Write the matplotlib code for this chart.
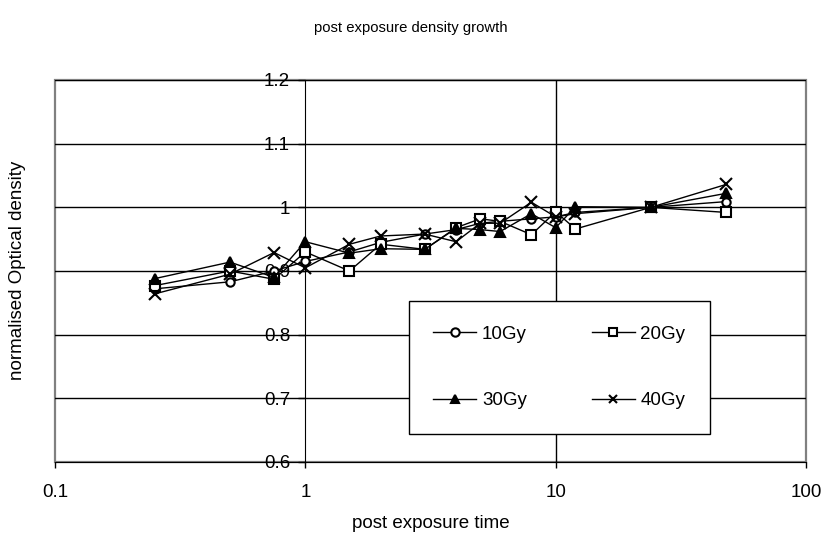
import matplotlib
matplotlib.use("Agg")
import matplotlib.pyplot as plt
from matplotlib.ticker import FixedLocator, FixedFormatter, NullLocator
from matplotlib.patches import Rectangle

plt.rcParams['font.family'] = ['Liberation Sans', 'DejaVu Sans']

time_h = [0.25, 0.5, 0.75, 1, 1.5, 2, 3, 4, 5, 6, 8, 10, 12, 24, 48]
od_10gy = [0.872, 0.883, 0.900, 0.915, 0.930, 0.945, 0.958, 0.965, 0.975, 0.978, 0.982, 0.985, 0.992, 1.0, 1.009]
od_20gy = [0.877, 0.900, 0.887, 0.930, 0.900, 0.942, 0.934, 0.968, 0.982, 0.978, 0.957, 0.993, 0.966, 1.0, 0.992]
od_30gy = [0.888, 0.914, 0.890, 0.946, 0.928, 0.935, 0.934, 0.967, 0.965, 0.962, 0.990, 0.968, 1.001, 1.0, 1.022]
od_40gy = [0.864, 0.895, 0.929, 0.905, 0.942, 0.955, 0.958, 0.946, 0.975, 0.975, 1.008, 0.985, 0.990, 1.0, 1.036]

x_ticks = [0.1, 1, 10, 100]
x_tick_labels = ['0.1', '1', '10', '100']
y_ticks = [0.6, 0.7, 0.8, 0.9, 1.0, 1.1, 1.2]
y_tick_labels = ['0.6', '0.7', '0.8', '0.9', '1', '1.1', '1.2']

FS = 13.5

fig = plt.figure(figsize=(8.21, 5.34), dpi=100)
L, R, T, B = 55 / 821, 806 / 821, 1 - 80 / 534, 1 - 462 / 534
ax = fig.add_axes([L, B, R - L, T - B])

ax.set_xscale('log')
ax.set_xlim(0.1, 100)
ax.set_ylim(0.6, 1.2)

# gridlines
for yv in y_ticks[1:]:
    ax.axhline(yv, color='black', lw=1.0, zorder=1)
ax.axvline(10, color='black', lw=1.0, zorder=1)

# gray plot-area frame
ax.add_patch(Rectangle((0, 0), 1, 1, transform=ax.transAxes, fill=False,
                       edgecolor='#808080', lw=1.6, zorder=0.5, clip_on=False))

series = [
    (od_10gy, 'o', 'white', 6, '10Gy'),
    (od_20gy, 's', 'white', 7, '20Gy'),
    (od_30gy, '^', 'black', 7, '30Gy'),
    (od_40gy, 'x', 'black', 8, '40Gy'),
]
handles = []
for vals, mk, fc, ms, lab in series:
    h, = ax.plot(time_h, vals, color='black', lw=1.0, marker=mk, markersize=ms,
                 markerfacecolor=fc, markeredgecolor='black', markeredgewidth=1.5,
                 label=lab, zorder=3)
    handles.append(h)

# axes spines
ax.spines['top'].set_visible(False)
ax.spines['right'].set_visible(False)
ax.spines['left'].set_position(('data', 1))
ax.spines['left'].set_color('black')
ax.spines['bottom'].set_color('black')
ax.spines['left'].set_zorder(2)

ax.xaxis.set_major_locator(FixedLocator(x_ticks))
ax.xaxis.set_major_formatter(FixedFormatter(x_tick_labels))
ax.xaxis.set_minor_locator(NullLocator())
ax.yaxis.set_major_locator(FixedLocator(y_ticks))
ax.yaxis.set_major_formatter(FixedFormatter(y_tick_labels))

ax.tick_params(axis='x', direction='out', length=4, pad=12, labelsize=FS, width=1)
ax.tick_params(axis='y', direction='out', length=5, pad=6, labelsize=FS, width=1)

ax.set_xlabel('post exposure time', fontsize=FS, labelpad=10)
fig.text(18 / 821, 1 - 270 / 534, 'normalised Optical density', rotation=90,
         ha='center', va='center', fontsize=FS)
fig.text(0.5, 1 - 28 / 534, 'post exposure density growth', ha='center', va='center', fontsize=10.7)

# row-wise order: 10Gy, 20Gy / 30Gy, 40Gy
order = [0, 2, 1, 3]
leg = ax.legend([handles[i] for i in order], [series[i][4] for i in order],
                loc='upper left', bbox_to_anchor=(0.471, 0.421, 0.401, 0.0), mode='expand',
                ncol=2, frameon=True, fancybox=False, edgecolor='black', framealpha=1,
                fontsize=FS, handlelength=2.3, handletextpad=0.3, labelspacing=2.65,
                borderpad=1.3, columnspacing=3.0, borderaxespad=0)
leg.get_frame().set_linewidth(1.0)
for h in leg.legend_handles:
    h.set_markersize(6)
    h.set_markeredgewidth(1.5)

fig.savefig('out.png', dpi=100)
